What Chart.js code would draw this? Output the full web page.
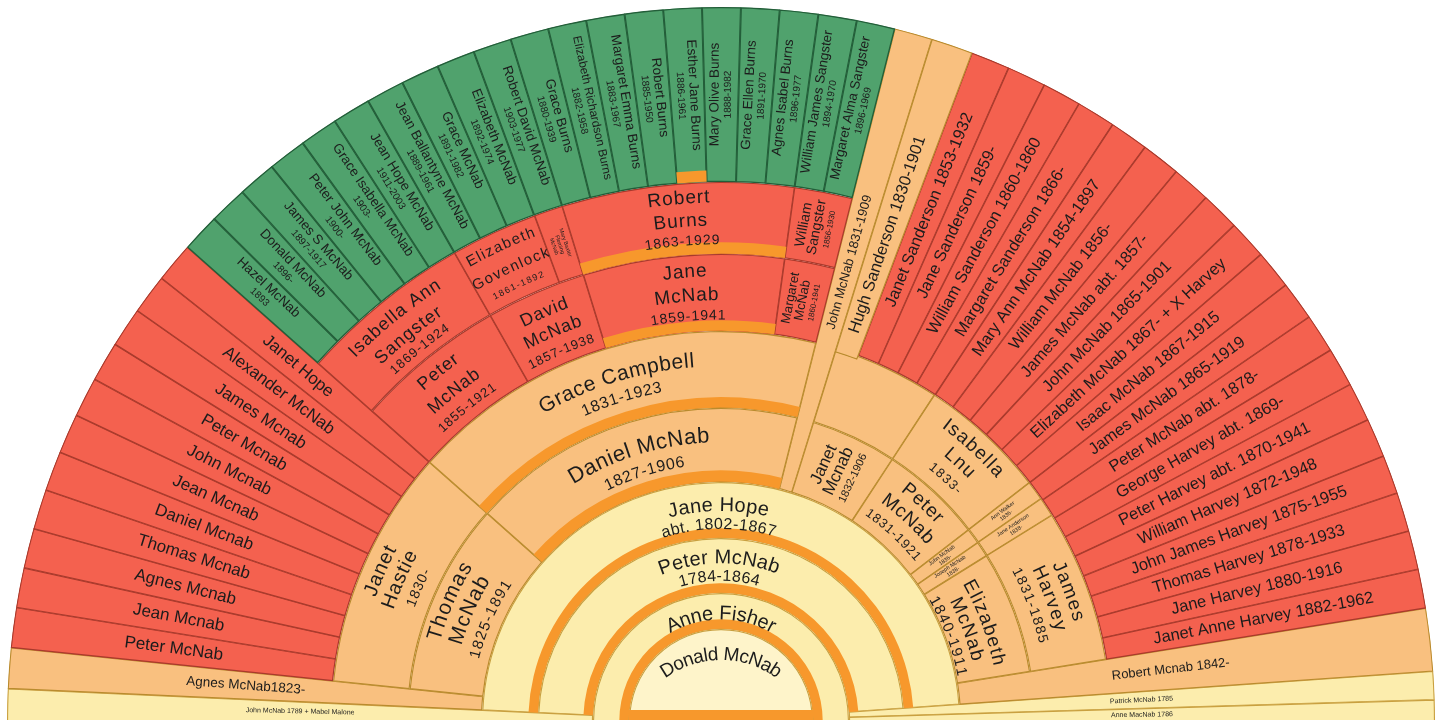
<!DOCTYPE html>
<html>
<head>
<meta charset="utf-8">
<script src="https://cdn.jsdelivr.net/npm/chart.js@4.4.1/dist/chart.umd.min.js"></script>
<style>
  html, body { margin: 0; padding: 0; background: #fff; }
  #fan { position: relative; width: 1447px; height: 720px; overflow: hidden; }
  #fan canvas { position: absolute; left: 0; top: 0; width: 1447px; height: 720px; }
</style>
</head>
<body>
<div id="fan"></div>
<script>
// ---- people, as written on the chart ----
const rootNames = ["Donald McNab", "Anne Fisher"];
const peterLine = ["Peter McNab", "1784-1864"];
const janeHopeLine = ["Jane Hope", "abt. 1802-1867"];
const rootSiblings = ["John McNab 1789 + Mabel Malone", "Patrick McNab 1785", "Anne MacNab 1786"];
const loneChildren = ["Agnes McNab1823-", "John McNab 1831-1909", "Robert Mcnab 1842-"];
const hughSlice = "Hugh Sanderson 1830-1901";
const peterChildren = [
  ["Thomas", "McNab", "1825-1891"], ["Janet", "Mcnab", "1832-1906"], ["Peter", "McNab", "1831-1921"],
  ["John McNab", "1836-"], ["Joseph McNab", "1838-"], ["Elizabeth", "McNab", "1840-1911"],
];
const peterChildSpouses = [
  ["Janet", "Hastie", "1830-"], [], ["Isabella", "Lnu", "1833-"],
  ["Ann Walker", "1836-"], ["Jane Anderson", "1838-"], ["James", "Harvey", "1831-1885"],
];
const thomasKids = [
  "Peter McNab", "Jean Mcnab", "Agnes Mcnab", "Thomas Mcnab", "Daniel Mcnab", "Jean Mcnab",
  "John Mcnab", "Peter Mcnab", "James Mcnab", "Alexander McNab", "Janet Hope",
];
const eastKids = [
  "Janet Sanderson 1853-1932", "Jane Sanderson 1859-", "William Sanderson 1860-1860", "Margaret Sanderson 1866-",
  "Mary Ann McNab 1854-1897", "William McNab 1856-", "James McNab abt. 1857-", "John McNab 1865-1901",
  "Elizabeth McNab 1867- + X Harvey", "Isaac McNab 1867-1915", "James McNab 1865-1919", "Peter McNab abt. 1878-",
  "George Harvey abt. 1869-", "Peter Harvey abt. 1870-1941", "William Harvey 1872-1948", "John James Harvey 1875-1955",
  "Thomas Harvey 1878-1933", "Jane Harvey 1880-1916", "Janet Anne Harvey 1882-1962",
];
const danielPair = [["Daniel McNab", "1827-1906"], ["Grace Campbell", "1831-1923"]];
const danielKids = [["Peter", "McNab", "1855-1921"], ["David", "McNab", "1857-1938"], ["Jane", "McNab", "1859-1941"], ["Margaret", "McNab", "1860-1941"]];
const danielInLaws = [["Isabella Ann", "Sangster", "1869-1924"], ["Elizabeth", "Govenlock", "1861-1892"], ["Mary Baxter", "Fleming", "McNab"], ["Robert", "Burns", "1863-1929"], ["William", "Sangster", "1856-1930"]];
const greatNames = [
  "Hazel McNab", "Donald McNab", "James S McNab", "Peter John McNab", "Grace Isabella McNab", "Jean Hope McNab",
  "Jean Ballantyne McNab", "Grace McNab", "Elizabeth McNab", "Robert David McNab", "Grace Burns",
  "Elizabeth Richardson Burns", "Margaret Emma Burns", "Robert Burns", "Esther Jane Burns", "Mary Olive Burns",
  "Grace Ellen Burns", "Agnes Isabel Burns", "William James Sangster", "Margaret Alma Sangster",
];
const greatDates = [
  "1893", "1896-", "1897-1917", "1900-", "1903-", "1911-2003", "1889-1961", "1891-1982", "1892-1974", "1903-1977",
  "1880-1939", "1882-1958", "1883-1967", "1885-1950", "1886-1961", "1888-1982", "1891-1970", "1896-1977",
  "1894-1970", "1896-1969",
];

// ---- angular widths in degrees of the half circle (left -> right) ----
const peterSpan = [2.6, 173.4, 4.0];
const rootSiblingSpan = [2.6, 173.4, 2.3, 1.7];
const loneSpan = [2.6, 3.3, 98.2, 3.1, 63.7, 5.1, 4.0];
const childSpan = [5.9, 35.7, 65.6, 16.0, 19.1, 2.9, 2.9, 22.8, 9.1];
const thomasKidSpan = [3.245, 3.245, 3.245, 3.245, 3.245, 3.245, 3.245, 3.245, 3.245, 3.245, 3.245];
const eastKidSpan = [3.174, 3.174, 3.174, 3.174, 3.174, 3.174, 3.174, 3.174, 3.174, 3.174, 3.174, 3.174, 3.174, 3.174, 3.174, 3.174, 3.174, 3.174, 3.174];
const danielSpan = [41.6, 62.5, 75.9];
const danielKidSpan = [41.6, 18.75, 12.5, 25.0, 6.25, 75.9];
const danielInLawSpan = [41.6, 18.75, 9.4, 3.1, 25.0, 6.25, 75.9];
const greatSpan = [3.125, 3.125, 3.125, 3.125, 3.125, 3.125, 3.125, 3.125, 3.125, 3.125, 3.125, 3.125, 3.125, 3.125, 3.125, 3.125, 3.125, 3.125, 3.125, 3.125];
const hughSpan = [107.2, 3.4, 69.4];
const janeBandSpan = [72.85, 25.0, 82.15];
const estherBandSpan = [85.35, 3.125, 91.525];

// ---- look ----
const R_OUT = 714;
const PAD = { top: 8, right: 5, bottom: 0, left: 0 };
const FONT = '"Liberation Sans", Arial, sans-serif';
const FILL = { disc: "#fef4ca", pale: "#fcedad", light: "#f9c07f", red: "#f4614f", green: "#50a26d", band: "#f7982c" };
const EDGE = { disc: "#c9a040", pale: "#c9a040", light: "#b98b2e", red: "#a83a2c", green: "#235e39" };
const CLEAR = "rgba(0,0,0,0)";

const piece = (v, kind, label) => ({ v, kind, label });
const rad = (lines, size, extra = {}) => ({ mode: "rad", lines, size, ...extra });
const arc = (lines, size, extra = {}) => ({ mode: "arc", lines, size, ...extra });
const G = null;

// rings are listed outer -> inner, w = ring thickness in px
const coreBlock = { inner: 0, rings: [
  { w: 475, segs: [piece(180, G)] },
  { w: 56, segs: [piece(peterSpan[0], G), piece(peterSpan[1], "pale", arc(janeHopeLine, [20, 16], { at: [0.58, 0.24], gap: 0.6 })), piece(peterSpan[2], G)] },
  { w: 55, segs: [piece(peterSpan[0], G), piece(peterSpan[1], "pale", arc(peterLine, [20, 16], { at: [0.64, 0.3], gap: 0.6 })), piece(peterSpan[2], G)] },
  { w: 36, segs: [piece(180, "pale", arc([rootNames[1]], [20], { at: [0.42], gap: 0.4 }))] },
  { w: 92, segs: [piece(180, "disc", arc([rootNames[0]], [19], { at: [0.72], bend: 1.5 }))] },
]};

const rootSiblingBlock = { inner: 128, rings: [
  { w: 586, segs: [
    piece(rootSiblingSpan[0], "pale", rad([rootSiblings[0]], [7])),
    piece(rootSiblingSpan[1], G),
    piece(rootSiblingSpan[2], "pale", rad([rootSiblings[1]], [7])),
    piece(rootSiblingSpan[3], "pale", rad([rootSiblings[2]], [7])),
  ]},
]};

const loneBlock = { inner: 239, rings: [
  { w: 475, segs: [
    piece(loneSpan[0], G),
    piece(loneSpan[1], "light", rad([loneChildren[0]], [13.5])),
    piece(loneSpan[2], G),
    piece(loneSpan[3], "light", rad([loneChildren[1]], [13])),
    piece(loneSpan[4], G),
    piece(loneSpan[5], "light", rad([loneChildren[2]], [13], { at: 0.45 })),
    piece(loneSpan[6], G),
  ]},
]};

const childKinds = [G, "light", G, "light", "light", "light", "light", "light", G];
const childStyle = [
  null,
  (l) => arc(l, [21, 21, 15], { lh: 22, gap: 1.5 }),
  null,
  (l) => rad(l, [17, 17, 11], { lh: 16 }),
  (l) => arc(l, [19, 19, 13], { lh: 21, gap: 1 }),
  (l) => rad(l, [5.5, 5.5], { lh: 6 }),
  (l) => rad(l, [5.5, 5.5], { lh: 6 }),
  (l) => arc(l, [19, 19, 15], { at: [0.6, 0.33, 0.08], gap: 1.5 }),
  null,
];
const spouseStyle = [
  null,
  (l) => arc(l, [20, 20, 14], { lh: 21, gap: 1 }),
  null,
  null,
  (l) => arc(l, [19, 19, 13], { lh: 21, gap: 1.5 }),
  (l) => rad(l, [5.5, 5.5], { lh: 6 }),
  (l) => rad(l, [5.5, 5.5], { lh: 6 }),
  (l) => arc(l, [19, 19, 14], { lh: 20, gap: 1.5 }),
  null,
];
function familyRing(styles, people) {
  let k = 0;
  return childSpan.map((v, i) => {
    if (!childKinds[i]) return piece(v, G);
    const who = people[k++];
    return piece(v, childKinds[i], styles[i] && who.length ? styles[i](who) : null);
  });
}

const familyBlock = { inner: 239, rings: [
  { w: 324, segs: [
    piece(5.9, G),
    ...thomasKids.map((t, i) => piece(thomasKidSpan[i], "red", rad([t], [17]))),
    piece(69.0, G),
    ...eastKids.map((t, i) => piece(eastKidSpan[i], "red", rad([t], [16.5]))),
    piece(9.1, G),
  ]},
  { w: 77, segs: familyRing(spouseStyle, peterChildSpouses) },
  { w: 74, segs: familyRing(childStyle, peterChildren) },
]};

const danielBlock = { inner: 239, rings: [
  { w: 175, segs: [
    piece(danielSpan[0], G),
    ...greatNames.map((n, i) => piece(greatSpan[i], "green", rad([n, greatDates[i]], [13.5, 10], { lh: 13, room: 0.84 }))),
    piece(danielSpan[2], G),
  ]},
  { w: 72, segs: [
    piece(danielInLawSpan[0], G),
    piece(danielInLawSpan[1], "red", arc(danielInLaws[0], [18, 18, 13], { at: [0.74, 0.42, 0.17], gap: 1.2 })),
    piece(danielInLawSpan[2], "red", arc(danielInLaws[1], [15, 15, 9], { at: [0.78, 0.45, 0.19], gap: 1.5 })),
    piece(danielInLawSpan[3], "red", rad(danielInLaws[2], [5.5, 5.5, 5.5], { lh: 6 })),
    piece(danielInLawSpan[4], "red", arc(danielInLaws[3], [19, 19, 14], { at: [0.79, 0.47, 0.19], gap: 1 })),
    piece(danielInLawSpan[5], "red", rad(danielInLaws[4], [14, 14, 8], { lh: 13 })),
    piece(danielInLawSpan[6], G),
  ]},
  { w: 77, segs: [
    piece(danielKidSpan[0], G),
    piece(danielKidSpan[1], "red", arc(danielKids[0], [18, 18, 13], { at: [0.77, 0.45, 0.18], gap: 1 })),
    piece(danielKidSpan[2], "red", arc(danielKids[1], [18, 18, 13], { at: [0.72, 0.44, 0.17], gap: 1 })),
    piece(danielKidSpan[3], "red", arc(danielKids[2], [19, 19, 14], { at: [0.78, 0.47, 0.2], gap: 1 })),
    piece(danielKidSpan[4], "red", rad(danielKids[3], [13, 13, 8], { lh: 12 })),
    piece(danielKidSpan[5], G),
  ]},
  { w: 77, segs: [piece(danielSpan[0], G), piece(danielSpan[1], "light", arc(danielPair[1], [21, 16], { at: [0.62, 0.33], gap: 0.8 })), piece(danielSpan[2], G)] },
  { w: 74, segs: [piece(danielSpan[0], G), piece(danielSpan[1], "light", arc(danielPair[0], [22, 16], { at: [0.62, 0.3], gap: 0.8 })), piece(danielSpan[2], G)] },
]};

const hughBlock = { inner: 386, rings: [
  { w: 328, segs: [piece(hughSpan[0], G), piece(hughSpan[1], "light", rad([hughSlice], [16.5], { at: 0.39 })), piece(hughSpan[2], G)] },
]};

// orange bands marking the line of descent, laid over the cells
const band = (spans, mid) => spans.map((v, i) => piece(v, i === mid ? "band" : G));
const bandBlock = { inner: 92, rings: [
  { w: 163, segs: [piece(180, G)] },
  { w: 12, segs: band(estherBandSpan, 1) },
  { w: 60, segs: [piece(180, G)] },
  { w: 12, segs: band(janeBandSpan, 1) },
  { w: 66, segs: [piece(180, G)] },
  { w: 11, segs: band(janeBandSpan, 1) },
  { w: 66, segs: [piece(180, G)] },
  { w: 11, segs: band(danielSpan, 1) },
  { w: 62, segs: [piece(180, G)] },
  { w: 12, segs: band(danielSpan, 1) },
  { w: 46, segs: [piece(180, G)] },
  { w: 10, segs: band(peterSpan, 1) },
  { w: 45, segs: [piece(180, G)] },
  { w: 10, segs: band(peterSpan, 1) },
  { w: 26, segs: [piece(180, G)] },
  { w: 10, segs: [piece(180, "band")] },
]};

function ringDataset(ring) {
  return {
    data: ring.segs.map((s) => s.v),
    weight: ring.w,
    backgroundColor: ring.segs.map((s) => (s.kind ? FILL[s.kind] : CLEAR)),
    borderColor: ring.segs.map((s) => (s.kind && EDGE[s.kind]) || CLEAR),
    borderWidth: ring.segs.map((s) => (!s.kind || s.kind === "band" ? 0 : s.kind === "green" ? 1 : 0.8)),
    borderAlign: "inner",
  };
}

function arcText(ctx, cx, cy, r, a, text, gap, rho) {
  const px = cx + r * Math.cos(a), py = cy + r * Math.sin(a);
  const ox = px - rho * Math.cos(a), oy = py - rho * Math.sin(a);
  const chars = [...text];
  const widths = chars.map((c) => ctx.measureText(c).width);
  const total = widths.reduce((s, w) => s + w, 0) + gap * (chars.length - 1);
  let s = -total / 2;
  chars.forEach((c, i) => {
    const m = a + (s + widths[i] / 2) / rho;
    ctx.save();
    ctx.translate(ox + rho * Math.cos(m), oy + rho * Math.sin(m));
    ctx.rotate(m + Math.PI / 2);
    ctx.fillText(c, 0, 0);
    ctx.restore();
    s += widths[i] + gap;
  });
}

function drawLabel(ctx, el, lab) {
  const { x, y, startAngle, endAngle, innerRadius: r0, outerRadius: r1 } = el;
  const a = (startAngle + endAngle) / 2;
  const n = lab.lines.length;
  const lh = lab.lh || Math.max(...lab.size) * 1.08;
  if (lab.mode === "rad") {
    const rc = r0 + (lab.at ?? 0.5) * (r1 - r0);
    const room = (r1 - r0) * (lab.room || 0.92);
    ctx.save();
    ctx.translate(x + rc * Math.cos(a), y + rc * Math.sin(a));
    ctx.rotate(a < -Math.PI / 2 ? a + Math.PI : a);
    lab.lines.forEach((t, i) => {
      let fs = lab.size[i];
      ctx.font = `${fs}px ${FONT}`;
      const w = ctx.measureText(t).width;
      if (w > room) ctx.font = `${(fs * room) / w}px ${FONT}`;
      ctx.fillText(t, 0, (i - (n - 1) / 2) * lh);
    });
    ctx.restore();
  } else {
    lab.lines.forEach((t, i) => {
      const r = lab.at ? r0 + lab.at[i] * (r1 - r0) : (r0 + r1) / 2 + ((n - 1) / 2 - i) * lh;
      ctx.font = `${lab.size[i]}px ${FONT}`;
      arcText(ctx, x, y, r, a, t, lab.gap || 0, lab.bend ? r * lab.bend : r);
    });
  }
}

const stack = [];

const labelPlugin = {
  id: "fanLabels",
  afterDraw(chart) {
    const ctx = chart.ctx;
    ctx.save();
    ctx.fillStyle = "#1c1c1c";
    ctx.textAlign = "center";
    ctx.textBaseline = "middle";
    stack.forEach(({ chart: c, block }) => {
      block.rings.forEach((ring, di) => {
        const arcs = c.getDatasetMeta(di).data;
        ring.segs.forEach((s, j) => { if (s.label) drawLabel(ctx, arcs[j], s.label); });
      });
    });
    // flat orange base under the root disc
    const root = stack[0].chart.getDatasetMeta(coreBlock.rings.length - 1).data[0];
    ctx.fillStyle = FILL.band;
    ctx.fillRect(root.x - root.outerRadius, root.y - 11, root.outerRadius * 2, 11);
    ctx.restore();
  },
};

function addFan(block, plugins = []) {
  const canvas = document.createElement("canvas");
  canvas.width = 1447;
  canvas.height = 720;
  document.getElementById("fan").appendChild(canvas);
  const chart = new Chart(canvas, {
    type: "doughnut",
    data: { datasets: block.rings.map(ringDataset) },
    options: {
      responsive: false,
      animation: false,
      events: [],
      rotation: -90,
      circumference: 180,
      radius: R_OUT,
      cutout: (block.inner / R_OUT) * 100 + "%",
      layout: { padding: PAD },
      plugins: { legend: { display: false }, tooltip: { enabled: false } },
    },
    plugins,
  });
  stack.push({ chart, block });
  return chart;
}

addFan(coreBlock);
addFan(rootSiblingBlock);
addFan(loneBlock);
addFan(familyBlock);
addFan(danielBlock);
addFan(hughBlock);
addFan(bandBlock, [labelPlugin]);
</script>
</body>
</html>
